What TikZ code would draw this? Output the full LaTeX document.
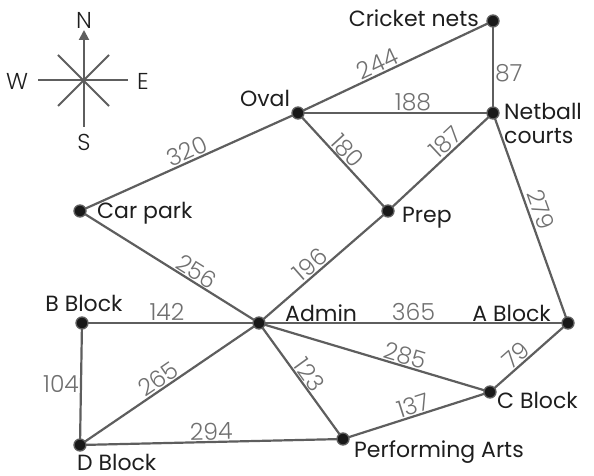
\documentclass[tikz,border=0pt]{standalone}
\usepackage{fontspec}
\setmainfont{Poppins}
\newfontfamily\numfont{Poppins Light}
\usetikzlibrary{arrows.meta,backgrounds}
\definecolor{edgegray}{HTML}{5E5E5E}
\definecolor{numgray}{HTML}{707070}
\definecolor{txtblack}{HTML}{1E1E1E}
\begin{document}
\begin{tikzpicture}[x=1pt,y=-1pt,
  vtx/.style={circle,fill=black!90,draw=edgegray,line width=1.3pt,minimum size=12pt,inner sep=0pt},
  road/.style={draw=edgegray,line width=2.2pt},
  dist/.style={text=numgray,font=\numfont\fontsize{23.5}{23.5}\selectfont,inner sep=1pt},
  place/.style={text=txtblack,font=\fontsize{22}{24}\selectfont,inner sep=0pt},
  comp/.style={draw=edgegray,line width=2pt},
  compl/.style={text=txtblack,font=\numfont\fontsize{23}{23}\selectfont,inner sep=0pt}]
\useasboundingbox (0,0) rectangle (594,476);
% compass
\coordinate (cc) at (84,80);
\coordinate (cn) at (84,30);
\coordinate (cs) at (84,127);
\coordinate (cw) at (38,80);
\coordinate (ce) at (128,80);
\coordinate (cnw) at (58,55);
\coordinate (cse) at (109,106);
\coordinate (cne) at (109,55);
\coordinate (csw) at (58,106);
\draw[comp] (cw) -- (ce);
\draw[comp] (cnw) -- (cse);
\draw[comp] (cne) -- (csw);
\draw[comp,-{Triangle[length=10pt,width=10pt]}] (cs) -- (cn);
\node[compl] (N) at (84,20) {N};
\node[compl] (S) at (84,142) {S};
\node[compl] (W) at (17,81) {W};
\node[compl] (E) at (143,81) {E};
% vertices
\node[vtx] (cricket) at (493,21) {};
\node[vtx] (oval) at (298,113) {};
\node[vtx] (netball) at (493,113) {};
\node[vtx] (carpark) at (80,211) {};
\node[vtx] (prep) at (388,211) {};
\node[vtx] (admin) at (259,323) {};
\node[vtx] (bblock) at (82,323) {};
\node[vtx] (ablock) at (568,323) {};
\node[vtx] (cblock) at (490,392) {};
\node[vtx] (dblock) at (80,445) {};
\node[vtx] (perf) at (343,439) {};
% edges
\begin{scope}[on background layer]
\path[road] (oval.center) -- node[dist,sloped,above,pos=0.43] (l244) {244} (cricket.center);
\path[road] (cricket.center) -- node[dist,right,pos=0.57] (l87) {87} (netball.center);
\path[road] (oval.center) -- node[dist,above,pos=0.59] (l188) {188} (netball.center);
\path[road] (carpark.center) -- node[dist,sloped,above,pos=0.51] (l320) {320} (oval.center);
\path[road] (oval.center) -- node[dist,sloped,above,pos=0.46] (l180) {180} (prep.center);
\path[road] (prep.center) -- node[dist,sloped,above,pos=0.62] (l187) {187} (netball.center);
\path[road] (netball.center) -- node[dist,sloped,above=2pt,pos=0.48] (l279) {279} (ablock.center);
\path[road] (carpark.center) -- node[dist,sloped,above,pos=0.62] (l256) {256} (admin.center);
\path[road] (admin.center) -- node[dist,sloped,above,pos=0.45] (l196) {196} (prep.center);
\path[road] (bblock.center) -- node[dist,above,pos=0.48] (l142) {142} (admin.center);
\path[road] (admin.center) -- node[dist,above,pos=0.5] (l365) {365} (ablock.center);
\path[road] (admin.center) -- node[dist,sloped,above,pos=0.62] (l285) {285} (cblock.center);
\path[road] (cblock.center) -- node[dist,sloped,above,pos=0.42] (l79) {79} (ablock.center);
\path[road] (bblock.center) -- node[dist,left,pos=0.5] (l104) {104} (dblock.center);
\path[road] (dblock.center) -- node[dist,sloped,above,pos=0.47] (l265) {265} (admin.center);
\path[road] (admin.center) -- node[dist,sloped,above,pos=0.5] (l123) {123} (perf.center);
\path[road] (perf.center) -- node[dist,sloped,above,pos=0.5] (l137) {137} (cblock.center);
\path[road] (dblock.center) -- node[dist,sloped,above,pos=0.5] (l294) {294} (perf.center);
\end{scope}
% place labels
\node[place,anchor=east] (tcricket) at (479,18) {Cricket nets};
\node[place] (toval) at (265,98) {Oval};
\node[place,anchor=north west,align=left] (tnetball) at (504,103) {Netball\\courts};
\node[place,anchor=west] (tcarpark) at (97,213) {Car park};
\node[place,anchor=west] (tprep) at (402,218) {Prep};
\node[place,anchor=west] (tadmin) at (285,313) {Admin};
\node[place] (tbblock) at (84,303) {B Block};
\node[place,anchor=east] (tablock) at (551,313) {A Block};
\node[place,anchor=west] (tcblock) at (497,400) {C Block};
\node[place,anchor=west] (tdblock) at (77,462) {D Block};
\node[place,anchor=west] (tperf) at (354,452) {Performing Arts};
\end{tikzpicture}
\end{document}
